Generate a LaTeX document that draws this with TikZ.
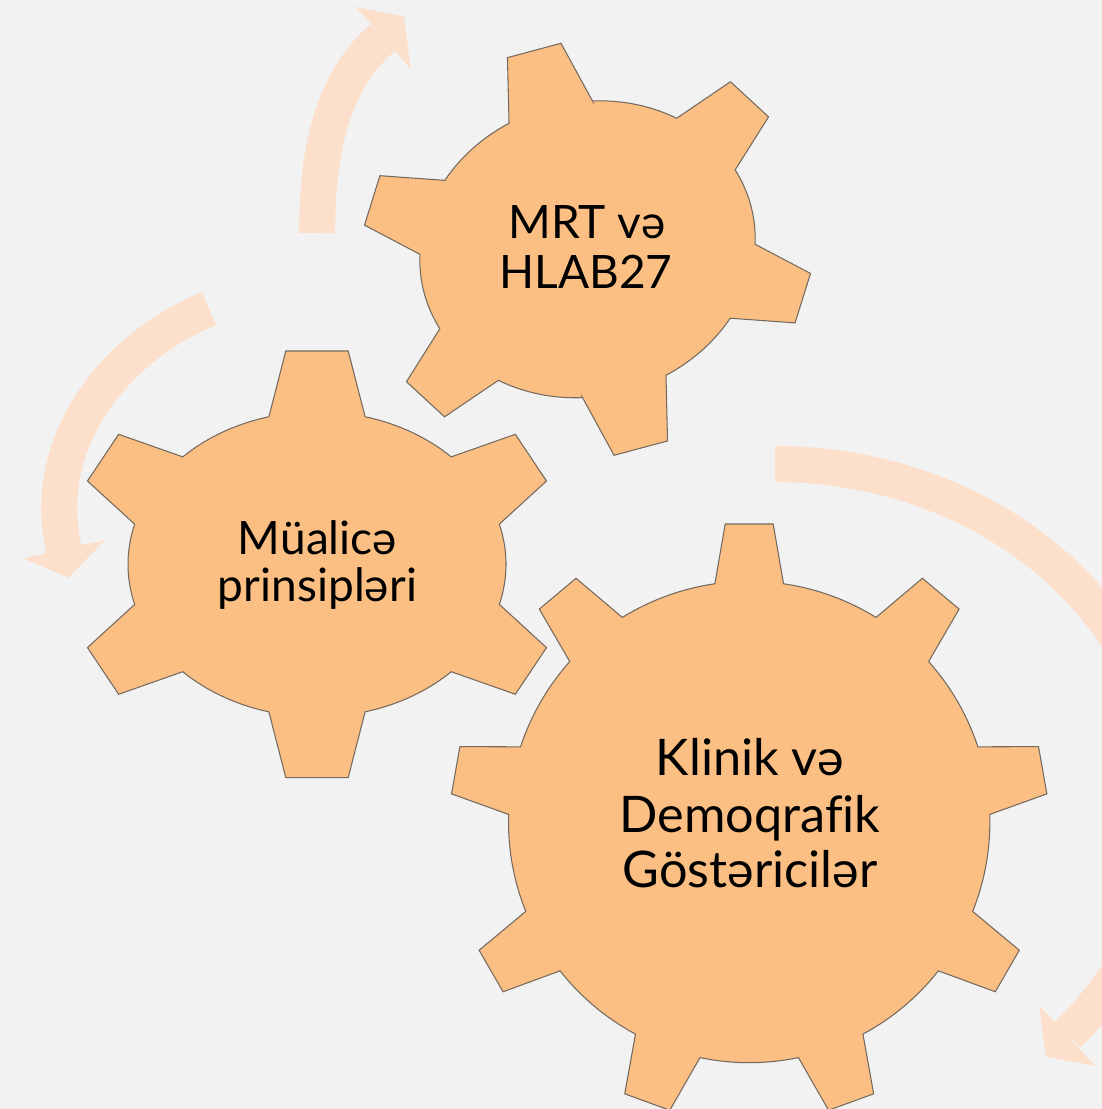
\documentclass[tikz,border=0pt]{standalone}
\usepackage{fontspec}
\setmainfont{Lato}[Ligatures=NoCommon]
\definecolor{bgc}{RGB}{242,242,242}
\definecolor{gearc}{RGB}{251,191,131}
\definecolor{arrc}{RGB}{252,224,204}
\definecolor{edgec}{RGB}{115,105,95}
% #1 a, #2 b (body), #3 A, #4 B (tips), #5 tooth angles, #6 step, #7 half base, #8 half tip
\newcommand{\gearoutline}[8]{%
  ({#1*cos(90-#7)},{#2*sin(90-#7)})
  \foreach \gc in {#5} {
    -- ({#1*cos(\gc-#7)},{#2*sin(\gc-#7)})
    -- ({#3*cos(\gc-#8)},{#4*sin(\gc-#8)})
    -- ({#3*cos(\gc+#8)},{#4*sin(\gc+#8)})
    -- ({#1*cos(\gc+#7)},{#2*sin(\gc+#7)})
    -- plot[domain=\gc+#7:\gc+#6-#7, samples=16, variable=\t] ({#1*cos(\t)},{#2*sin(\t)})
  } -- cycle}
\tikzset{
  gear/.style={fill=gearc, draw=edgec, line width=0.6pt, line join=miter},
  band/.style={draw=arrc, line width=0.72cm, line cap=butt},
  lbl/.style={text=black, inner sep=0pt, anchor=base},
  smallfont/.style={font=\fontsize{26.2pt}{30pt}\selectfont},
  bigfont/.style={font=\fontsize{28.7pt}{33pt}\selectfont}
}
\begin{document}
\begin{tikzpicture}[x=0.02cm, y=0.02cm]
\fill[bgc] (0,0) rectangle (1102,1109);
\useasboundingbox (0,0) rectangle (1102,1109);

% circular arrows
\draw[band] (317.2,876) .. controls (317.2,947.9) and (327.8,1024.5) .. (382.5,1071.1);
\fill[arrc] (355.7,1102.3) -- (404,1092.3) -- (410.7,1040) -- cycle;

\draw[band] (209,800.3) .. controls (110.5,759.9) and (39.9,663.4) .. (63.9,559.8);
\fill[arrc] (23.3,550.7) -- (68.3,531.3) -- (105,569) -- cycle;

\draw[band] plot[domain=-42:90, samples=80, variable=\t] ({775+393.3*cos(\t)},{302.9+342.1*sin(\t)});
\fill[arrc] (1039,104) -- (1046,52.3) -- (1095,43.3) -- cycle;

% gears
\filldraw[gear, shift={(749.2,287)}] \gearoutline{240.7}{240.7}{299}{299}{90,130,170,210,250,290,330,370,410}{40}{8.2}{4.6};
\filldraw[gear, shift={(317,544.7)}] \gearoutline{189}{152.6}{249}{215}{90,150,210,270,330,390}{60}{14.75}{7.2};
\filldraw[gear, shift={(587.5,859.7)}, rotate=15] \gearoutline{169.1}{146.9}{227.2}{207.4}{90,150,210,270,330,390}{60}{14.8}{7};

% labels
\node[lbl, smallfont] (t3a) at (587,870.7) {MRT və};
\node[lbl, smallfont] (t3b) at (586,820.7) {HLAB27};
\node[lbl, smallfont] (t2a) at (317.5,554) {Müalicə};
\node[lbl, smallfont] (t2b) at (317.5,507) {prinsipləri};
\node[lbl, bigfont] (t1a) at (750,333) {Klinik və};
\node[lbl, bigfont] (t1b) at (750,276.3) {Demoqrafik};
\node[lbl, bigfont] (t1c) at (750,221) {Göstəricilər};
\end{tikzpicture}
\end{document}
